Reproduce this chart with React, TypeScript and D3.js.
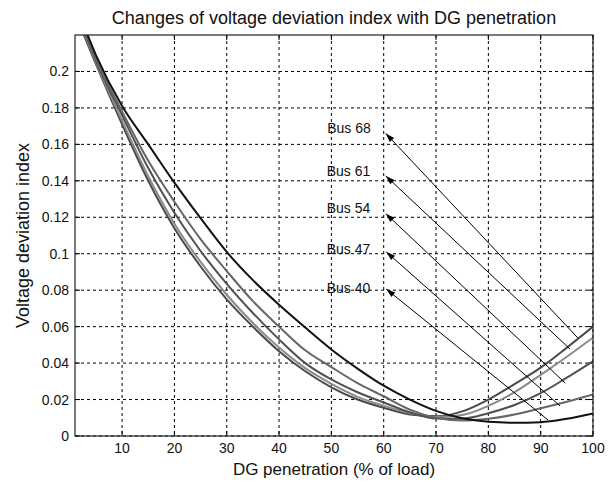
import React from "react";
import * as d3 from "d3";

const W = 613;
const H = 483;

const xValues = [1, 5, 10, 15, 20, 25, 30, 35, 40, 45, 50, 55, 60, 65, 70, 75, 80, 85, 90, 95, 100];
const bus68 = [0.232, 0.204, 0.171, 0.140, 0.114, 0.093, 0.075, 0.060, 0.0465, 0.0355, 0.0267, 0.0200, 0.0155, 0.0118, 0.0108, 0.0135, 0.0200, 0.0285, 0.0375, 0.0485, 0.0600];
const bus61 = [0.234, 0.205, 0.173, 0.1425, 0.1165, 0.0955, 0.0775, 0.0620, 0.0485, 0.0372, 0.0286, 0.0215, 0.0166, 0.0125, 0.0104, 0.0115, 0.0165, 0.0240, 0.0335, 0.0435, 0.0540];
const bus54 = [0.236, 0.206, 0.176, 0.147, 0.1225, 0.1015, 0.0835, 0.0675, 0.0530, 0.0400, 0.0310, 0.0240, 0.0184, 0.0130, 0.0096, 0.0095, 0.0125, 0.0170, 0.0235, 0.0320, 0.0410];
const bus47 = [0.237, 0.207, 0.178, 0.151, 0.1285, 0.1080, 0.0905, 0.0740, 0.0600, 0.0470, 0.0378, 0.0290, 0.0218, 0.0145, 0.0100, 0.0085, 0.0095, 0.0118, 0.0152, 0.0188, 0.0228];
const bus40 = [0.238, 0.209, 0.181, 0.160, 0.139, 0.1195, 0.101, 0.0855, 0.0720, 0.0595, 0.0475, 0.0370, 0.0276, 0.0200, 0.0138, 0.0097, 0.0078, 0.0073, 0.0076, 0.0095, 0.0124];

const seriesNames = ["Bus 68", "Bus 61", "Bus 54", "Bus 47", "Bus 40"];
const seriesValues = [bus68, bus61, bus54, bus47, bus40];
const seriesColors = ["#4a4a4a", "#8a8a8a", "#505050", "#666666", "#111111"];

// annotation: label position, arrow head, arrow tail (data units)
const labelX = [49.2, 49.1, 49.1, 49.1, 49.1];
const labelY = [0.1690, 0.1454, 0.1250, 0.1026, 0.0812];
const headX = [60.4, 60.4, 60.4, 60.5, 60.5];
const headY = [0.1660, 0.1427, 0.1220, 0.1010, 0.0806];
const tailX = [97.1, 95.6, 94.7, 93.7, 91.4];
const tailY = [0.0538, 0.0477, 0.0290, 0.0165, 0.0088];

const xTicks = [10, 20, 30, 40, 50, 60, 70, 80, 90, 100];
const yTicks = [0, 0.02, 0.04, 0.06, 0.08, 0.1, 0.12, 0.14, 0.16, 0.18, 0.2];

const title = "Changes of voltage deviation index with DG penetration";
const xTitle = "DG penetration (% of load)";
const yTitle = "Voltage deviation index";

export default function App() {
  const left = 75, right = 593, top = 35, bottom = 436;
  const x = d3.scaleLinear().domain([1, 100]).range([left, right]);
  const y = d3.scaleLinear().domain([0, 0.22]).range([bottom, top]);
  const line = d3
    .line<number>()
    .x((_, i) => x(xValues[i]))
    .y((d) => y(d))
    .curve(d3.curveMonotoneX);
  const font = "'Liberation Sans', Arial, Helvetica, sans-serif";

  const arrowHead = (i: number) => {
    const hx = x(headX[i]), hy = y(headY[i]);
    const tx = x(tailX[i]), ty = y(tailY[i]);
    const ang = Math.atan2(hy - ty, hx - tx);
    const len = 9, half = 3;
    const bx = hx - len * Math.cos(ang), by = hy - len * Math.sin(ang);
    const px = -Math.sin(ang), py = Math.cos(ang);
    return `${hx},${hy} ${bx + half * px},${by + half * py} ${bx - half * px},${by - half * py}`;
  };

  return (
    <svg width={W} height={H} style={{ position: "absolute", left: 0, top: 0, background: "#fff" }} fontFamily={font}>
      <defs>
        <clipPath id="plotclip">
          <rect x={left} y={top} width={right - left} height={bottom - top} />
        </clipPath>
      </defs>
      <rect x={0} y={0} width={W} height={H} fill="#fff" />
      {/* grid */}
      {xTicks.map((t) => (
        <line key={"gx" + t} x1={x(t)} x2={x(t)} y1={top} y2={bottom} stroke="#000" strokeWidth={1} strokeDasharray="3,3" />
      ))}
      {yTicks.map((t) => (
        <line key={"gy" + t} x1={left} x2={right} y1={y(t)} y2={y(t)} stroke="#000" strokeWidth={1} strokeDasharray="3,3" />
      ))}
      {/* ticks */}
      {xTicks.map((t) => (
        <g key={"tx" + t}>
          <line x1={x(t)} x2={x(t)} y1={bottom} y2={bottom - 5} stroke="#000" />
          <line x1={x(t)} x2={x(t)} y1={top} y2={top + 5} stroke="#000" />
          <text x={x(t)} y={bottom + 17} fontSize={14} textAnchor="middle" fill="#111">{t}</text>
        </g>
      ))}
      {yTicks.map((t) => (
        <g key={"ty" + t}>
          <line x1={left} x2={left + 5} y1={y(t)} y2={y(t)} stroke="#000" />
          <line x1={right} x2={right - 5} y1={y(t)} y2={y(t)} stroke="#000" />
          <text x={left - 6} y={y(t) + 5} fontSize={14} textAnchor="end" fill="#111">{t}</text>
        </g>
      ))}
      {/* curves */}
      <g clipPath="url(#plotclip)">
        {seriesValues.map((vals, i) => (
          <path key={seriesNames[i]} d={line(vals) || ""} fill="none" stroke={seriesColors[i]} strokeWidth={2} />
        ))}
      </g>
      {/* annotations */}
      {seriesNames.map((name, i) => (
        <g key={"ann" + name}>
          <line x1={x(tailX[i])} y1={y(tailY[i])} x2={x(headX[i])} y2={y(headY[i])} stroke="#000" strokeWidth={1} />
          <polygon points={arrowHead(i)} fill="#000" />
          <text x={x(labelX[i])} y={y(labelY[i]) + 5} fontSize={14} fill="#111">{name}</text>
        </g>
      ))}
      {/* box */}
      <rect x={left} y={top} width={right - left} height={bottom - top} fill="none" stroke="#222" strokeWidth={1.2} />
      {/* titles */}
      <text x={(left + right) / 2} y={24} fontSize={18} textAnchor="middle" fill="#111">{title}</text>
      <text x={(left + right) / 2} y={475} fontSize={17} textAnchor="middle" fill="#111">{xTitle}</text>
      <text transform={`translate(29,${(top + bottom) / 2}) rotate(-90)`} fontSize={18} textAnchor="middle" fill="#111">{yTitle}</text>
    </svg>
  );
}
